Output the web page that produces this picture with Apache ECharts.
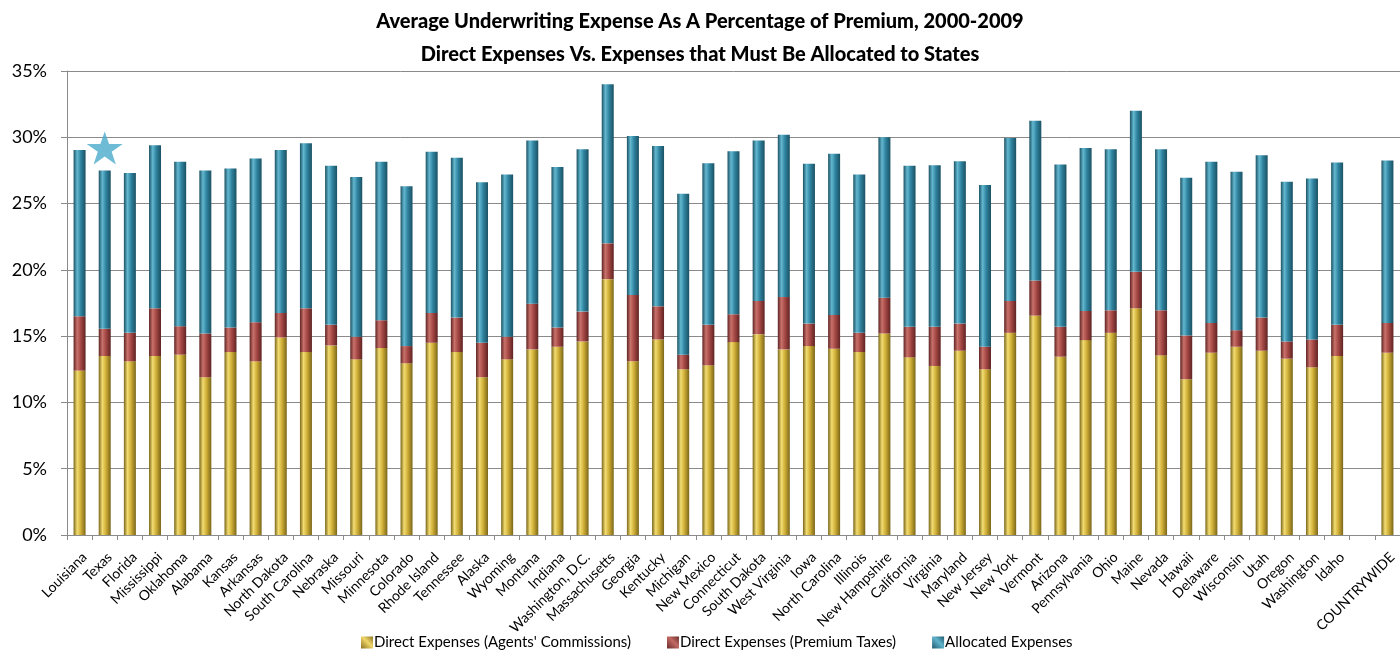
<!DOCTYPE html>
<html>
<head>
<meta charset="utf-8">
<script src="https://cdn.jsdelivr.net/npm/echarts@6/dist/echarts.min.js"></script>
<style>
  html, body { margin: 0; padding: 0; background: #fff; }
  #chart { width: 1400px; height: 652px; }
</style>
</head>
<body>
<div id="chart"></div>
<script>
// States ordered as in the study; an empty slot separates the countrywide total.
const categories = [
  'Louisiana', 'Texas', 'Florida', 'Mississippi', 'Oklahoma', 'Alabama', 'Kansas', 'Arkansas',
  'North Dakota', 'South Carolina', 'Nebraska', 'Missouri', 'Minnesota', 'Colorado', 'Rhode Island',
  'Tennessee', 'Alaska', 'Wyoming', 'Montana', 'Indiana', 'Washington, D.C.', 'Massachusetts',
  'Georgia', 'Kentucky', 'Michigan', 'New Mexico', 'Connecticut', 'South Dakota', 'West Virginia',
  'Iowa', 'North Carolina', 'Illinois', 'New Hampshire', 'California', 'Virginia', 'Maryland',
  'New Jersey', 'New York', 'Vermont', 'Arizona', 'Pennsylvania', 'Ohio', 'Maine', 'Nevada',
  'Hawaii', 'Delaware', 'Wisconsin', 'Utah', 'Oregon', 'Washington', 'Idaho', '', 'COUNTRYWIDE'
];

// Percent of premium, 2000-2009 averages
const agentsCommissions = [
  12.4, 13.5, 13.1, 13.5, 13.6, 11.9, 13.8, 13.1,
  14.9, 13.8, 14.3, 13.25, 14.1, 12.95, 14.5,
  13.8, 11.9, 13.25, 14.0, 14.2, 14.6, 19.3,
  13.1, 14.75, 12.5, 12.8, 14.55, 15.15, 14.0,
  14.25, 14.05, 13.8, 15.2, 13.4, 12.75, 13.9,
  12.5, 15.25, 16.55, 13.45, 14.7, 15.25, 17.1, 13.55,
  11.75, 13.75, 14.2, 13.9, 13.3, 12.65, 13.5, null, 13.75
];

const premiumTaxes = [
  4.1, 2.05, 2.15, 3.6, 2.15, 3.3, 1.85, 2.95,
  1.85, 3.3, 1.55, 1.7, 2.1, 1.3, 2.25,
  2.6, 2.6, 1.7, 3.45, 1.45, 2.25, 2.7,
  5.0, 2.5, 1.1, 3.05, 2.1, 2.5, 3.95,
  1.7, 2.55, 1.45, 2.7, 2.3, 2.95, 2.05,
  1.7, 2.4, 2.65, 2.25, 2.2, 1.7, 2.75, 3.4,
  3.3, 2.25, 1.25, 2.5, 1.3, 2.1, 2.35, null, 2.25
];

const allocatedExpenses = [
  12.55, 11.95, 12.05, 12.3, 12.4, 12.3, 12.0, 12.35,
  12.3, 12.45, 12.0, 12.05, 11.95, 12.05, 12.15,
  12.05, 12.1, 12.25, 12.3, 12.1, 12.25, 12.0,
  12.0, 12.1, 12.15, 12.2, 12.3, 12.1, 12.25,
  12.05, 12.15, 11.95, 12.1, 12.15, 12.2, 12.25,
  12.2, 12.3, 12.05, 12.25, 12.3, 12.15, 12.15, 12.15,
  11.9, 12.15, 11.95, 12.25, 12.05, 12.15, 12.25, null, 12.25
];

const legendNames = [
  "Direct Expenses (Agents' Commissions)",
  'Direct Expenses (Premium Taxes)',
  'Allocated Expenses'
];

// Highlighted state
const starState = 'Texas';
const starValue = 29.2;

const yTicks = { min: 0, max: 35, step: 5 };

// Horizontal shading that gives each bar a rounded, cylinder look
function cylinder(edge, light, mid) {
  return new echarts.graphic.LinearGradient(0, 0, 1, 0, [
    { offset: 0, color: edge },
    { offset: 0.3, color: light },
    { offset: 0.6, color: mid },
    { offset: 1, color: edge }
  ]);
}

// Diagonal shading for the legend swatches
function swatch(dark, light) {
  return new echarts.graphic.LinearGradient(0, 1, 1, 0, [
    { offset: 0, color: dark },
    { offset: 0.55, color: light },
    { offset: 1, color: dark }
  ]);
}

const fillYellow = cylinder('#7a6619', '#f2dc72', '#cfae36');
const fillRed = cylinder('#5e2322', '#c9716b', '#a44744');
const fillBlue = cylinder('#1b5163', '#63b8d0', '#2f839f');
const swatches = [
  swatch('#8a7420', '#f0d66a'),
  swatch('#6a2a28', '#c26a64'),
  swatch('#1f5a6e', '#5fb3cc')
];

const chart = echarts.init(document.getElementById('chart'), null, { renderer: 'canvas' });
const font = 'Lato, "Liberation Sans", sans-serif';

const barCommon = {
  type: 'bar',
  stack: 'expense',
  barWidth: 12,
  emphasis: { disabled: true }
};

chart.setOption({
  animation: false,
  backgroundColor: '#ffffff',
  textStyle: { fontFamily: font },
  title: {
    text: 'Average Underwriting Expense As A Percentage of Premium, 2000-2009\nDirect Expenses Vs. Expenses that Must Be Allocated to States',
    left: 'center',
    top: 5,
    padding: 0,
    textStyle: {
      fontFamily: font,
      fontSize: 20,
      fontWeight: 900,
      color: '#000',
      lineHeight: 33
    }
  },
  legend: {
    data: legendNames.map((n, i) => ({ name: n, itemStyle: { color: swatches[i] } })),
    left: 361,
    bottom: 2,
    padding: 0,
    icon: 'rect',
    itemWidth: 12,
    itemHeight: 12,
    itemGap: 36,
    selectedMode: false,
    textStyle: { fontFamily: font, fontSize: 15, color: '#000', padding: [0, 0, 0, -4] }
  },
  grid: {
    left: 67,
    right: -9,
    top: 71,
    bottom: 117,
    containLabel: false
  },
  xAxis: {
    type: 'category',
    data: categories,
    axisLine: { lineStyle: { color: '#8a8a8a', width: 1 } },
    axisTick: { show: true, length: 5, lineStyle: { color: '#8a8a8a' } },
    axisLabel: {
      interval: 0,
      rotate: 45,
      margin: 15,
      verticalAlign: 'top',
      fontSize: 14,
      color: '#000',
      fontFamily: font
    }
  },
  yAxis: {
    type: 'value',
    min: yTicks.min,
    max: yTicks.max,
    interval: yTicks.step,
    axisLine: { show: true, lineStyle: { color: '#8a8a8a', width: 1 } },
    axisTick: { show: true, length: 6, lineStyle: { color: '#8a8a8a' } },
    splitLine: { lineStyle: { color: '#8a8a8a', width: 1 } },
    axisLabel: {
      formatter: '{value}%',
      fontSize: 18,
      color: '#000',
      margin: 20,
      fontFamily: font
    }
  },
  series: [
    Object.assign({}, barCommon, {
      name: legendNames[0],
      data: agentsCommissions,
      itemStyle: { color: fillYellow }
    }),
    Object.assign({}, barCommon, {
      name: legendNames[1],
      data: premiumTaxes,
      itemStyle: { color: fillRed }
    }),
    Object.assign({}, barCommon, {
      name: legendNames[2],
      data: allocatedExpenses,
      itemStyle: { color: fillBlue }
    }),
    {
      type: 'scatter',
      name: 'star',
      data: [[starState, starValue]],
      symbol: 'path://M50,0 L61.8,35.5 L99,35.5 L68.9,57.4 L80.3,93 L50,71 L19.7,93 L31.1,57.4 L1,35.5 L38.2,35.5 Z',
      symbolSize: [36, 33],
      itemStyle: { color: '#49aacb' },
      z: 5,
      emphasis: { disabled: true },
      silent: true
    }
  ]
});
</script>
</body>
</html>
